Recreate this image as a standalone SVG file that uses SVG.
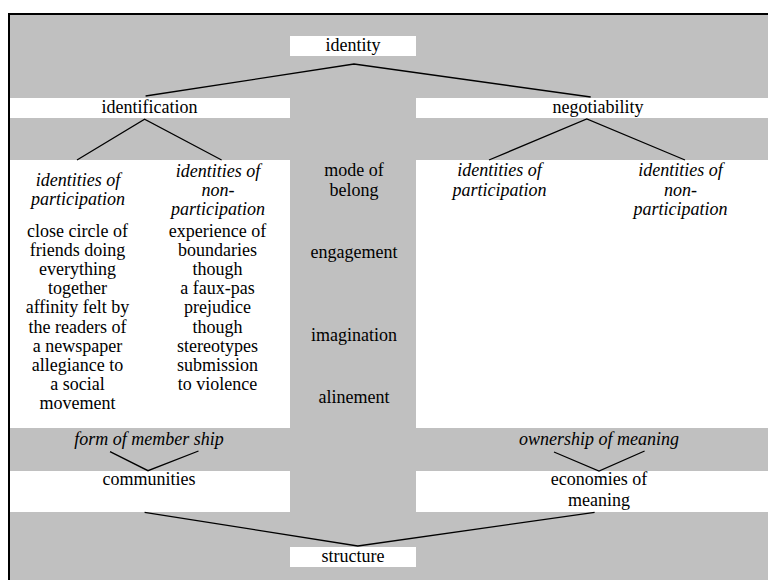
<svg xmlns="http://www.w3.org/2000/svg" width="768" height="580" viewBox="0 0 768 580" font-family="Liberation Serif, Times New Roman, serif" font-size="18">
<style>
.bg{fill:#c0c0c0;stroke:#000;stroke-width:2}
.box{fill:#fff}
text{fill:#000;text-anchor:middle}
.it{font-style:italic}
.con path{fill:none;stroke:#000;stroke-width:1.3}
</style>
<rect class="bg" x="9" y="14" width="780" height="590"/>
<g id="identity"><rect class="box" x="290" y="36" width="126" height="20"/><text x="353" y="51">identity</text></g>
<g id="identification"><rect class="box" x="10" y="98" width="280" height="20"/><text x="149.5" y="113">identification</text></g>
<g id="negotiability"><rect class="box" x="416" y="98" width="352" height="20"/><text x="598" y="113">negotiability</text></g>
<g id="left-panel"><rect class="box" x="10" y="160" width="280" height="268"/></g>
<g id="right-panel"><rect class="box" x="416" y="160" width="352" height="268"/></g>
<g id="identities-participation-left">
<text class="it" x="78" y="186">identities of</text>
<text class="it" x="78" y="204.5">participation</text>
<text x="77.5" y="237">close circle of</text>
<text x="77.5" y="256.1">friends doing</text>
<text x="77.5" y="275.2">everything</text>
<text x="77.5" y="294.3">together</text>
<text x="77.5" y="313.4">affinity felt by</text>
<text x="77.5" y="332.5">the readers of</text>
<text x="77.5" y="351.6">a newspaper</text>
<text x="77.5" y="370.7">allegiance to</text>
<text x="77.5" y="389.8">a social</text>
<text x="77.5" y="408.9">movement</text>
</g>
<g id="identities-nonparticipation-left">
<text class="it" x="218" y="176.5">identities of</text>
<text class="it" x="218" y="195.5">non-</text>
<text class="it" x="218" y="215">participation</text>
<text x="217.5" y="237">experience of</text>
<text x="217.5" y="256.1">boundaries</text>
<text x="217.5" y="275.2">though</text>
<text x="217.5" y="294.3">a faux-pas</text>
<text x="217.5" y="313.4">prejudice</text>
<text x="217.5" y="332.5">though</text>
<text x="217.5" y="351.6">stereotypes</text>
<text x="217.5" y="370.7">submission</text>
<text x="217.5" y="389.8">to violence</text>
</g>
<g id="mode-of-belong">
<text x="354" y="176">mode of</text>
<text x="354" y="195.5">belong</text>
<text x="354" y="257.5">engagement</text>
<text x="354" y="340.5">imagination</text>
<text x="354" y="403">alinement</text>
</g>
<g id="identities-participation-right">
<text class="it" x="499.5" y="176">identities of</text>
<text class="it" x="499.5" y="195.5">participation</text>
</g>
<g id="identities-nonparticipation-right">
<text class="it" x="680.5" y="176">identities of</text>
<text class="it" x="680.5" y="195.5">non-</text>
<text class="it" x="680.5" y="215">participation</text>
</g>
<g id="form-of-membership"><text class="it" x="149" y="445">form of member ship</text></g>
<g id="ownership-of-meaning"><text class="it" x="599" y="445">ownership of meaning</text></g>
<g id="communities"><rect class="box" x="10" y="471" width="280" height="41"/><text x="149" y="485">communities</text></g>
<g id="economies-of-meaning"><rect class="box" x="416" y="471" width="352" height="41"/><text x="599" y="485">economies of</text><text x="599" y="506">meaning</text></g>
<g id="structure"><rect class="box" x="290" y="547" width="126" height="20"/><text x="353" y="562">structure</text></g>
<g class="con" id="connectors">
<path d="M145.6,96 L354,64 L590.7,97"/>
<path d="M77,160 L144.6,119.3 L221.6,160"/>
<path d="M489,160 L586.8,119 L685,160"/>
<path d="M110,451.7 L148,470.7 L198.5,451"/>
<path d="M554,452 L599,471 L644.6,451"/>
<path d="M144.6,512.3 L357.8,546 L594.6,512.3"/>
</g>
</svg>
